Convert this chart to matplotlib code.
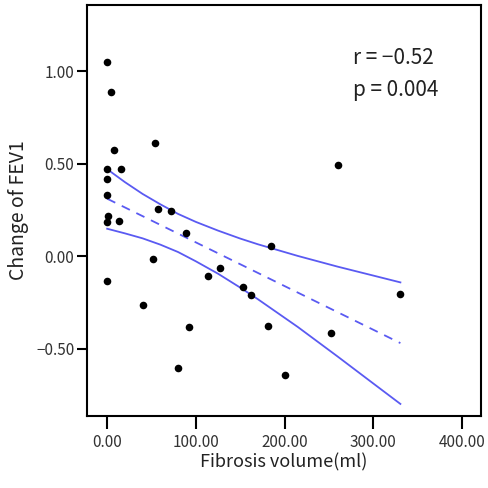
import matplotlib
matplotlib.use("Agg")
import matplotlib.pyplot as plt
import numpy as np

# values
fibrosis = [0, 4.1, 7.9, 53.9, 0, 15.4, 0, 0, 56.9, 72.3, 1.1, 0, 12.8, 89.3,
            260.6, 185.3, 52.0, 0, 126.9, 113.4, 153.3, 162.3, 330.7, 39.9,
            91.9, 181.9, 252.4, 79.8, 200.8]
fev1_change = [1.050, 0.888, 0.574, 0.610, 0.471, 0.473, 0.417, 0.331, 0.257,
               0.246, 0.219, 0.187, 0.191, 0.124, 0.495, 0.054, -0.018, -0.135,
               -0.063, -0.110, -0.165, -0.209, -0.203, -0.266, -0.381, -0.380,
               -0.417, -0.606, -0.640]

# 95% confidence band as drawn in the reference
band_x = [0, 20, 40, 60, 80, 100, 125, 150, 170, 215, 260, 300, 330.7]
band_upper = [0.470, 0.400, 0.336, 0.280, 0.228, 0.185, 0.138, 0.095, 0.064,
              0.001, -0.057, -0.105, -0.142]
band_lower = [0.148, 0.123, 0.096, 0.062, 0.022, -0.028, -0.095, -0.170,
              -0.233, -0.383, -0.543, -0.688, -0.799]

x_ticks = [0, 100, 200, 300, 400]
y_ticks = [-0.5, 0.0, 0.5, 1.0]
r_text = "r = \u22120.52"
p_text = "p = 0.004"

plt.rcParams['font.family'] = ['Noto Sans CJK KR', 'DejaVu Sans']
line_clr = '#5a5af2'

x = np.array(fibrosis)
y = np.array(fev1_change)

# least squares line
slope, intercept = np.polyfit(x, y, 1)
xs = np.array([x.min(), x.max()])
fit = slope * xs + intercept

fig = plt.figure(figsize=(4.88, 4.88), dpi=100)
ax = fig.add_axes([0.178, 0.148, 0.808, 0.842])

ax.plot(xs, fit, color=line_clr, lw=1.3, ls=(0, (5, 4)))
ax.plot(band_x, band_upper, color=line_clr, lw=1.3)
ax.plot(band_x, band_lower, color=line_clr, lw=1.3)
ax.scatter(x, y, s=30, color='black', zorder=3, linewidths=0)

ax.set_xlim(-22.9, 421.8)
ax.set_ylim(-0.863, 1.358)
ax.set_xticks(x_ticks)
ax.set_xticklabels([f"{v:.2f}" for v in x_ticks])
ax.set_yticks(y_ticks)
ax.set_yticklabels([f"{v:.2f}".replace('-', '\u2212') for v in y_ticks])

for sp in ax.spines.values():
    sp.set_linewidth(1.5)
ax.tick_params(axis='x', length=9, width=1.5, labelsize=11, pad=4, color='black')
ax.tick_params(axis='y', length=7, width=1.5, labelsize=11, pad=2, color='black')
for lbl in ax.get_xticklabels() + ax.get_yticklabels():
    lbl.set_color('#333333')

ax.set_xlabel("Fibrosis volume(ml)", fontsize=13, labelpad=2, color='#222222')
ax.set_ylabel("Change of FEV1", fontsize=14, labelpad=5, color='#222222')

ax.text(0.675, 0.871, r_text, transform=ax.transAxes, fontsize=15, va='center',
        color='#222222')
ax.text(0.675, 0.793, p_text, transform=ax.transAxes, fontsize=15, va='center',
        color='#222222')

fig.savefig("out.png", dpi=100)
